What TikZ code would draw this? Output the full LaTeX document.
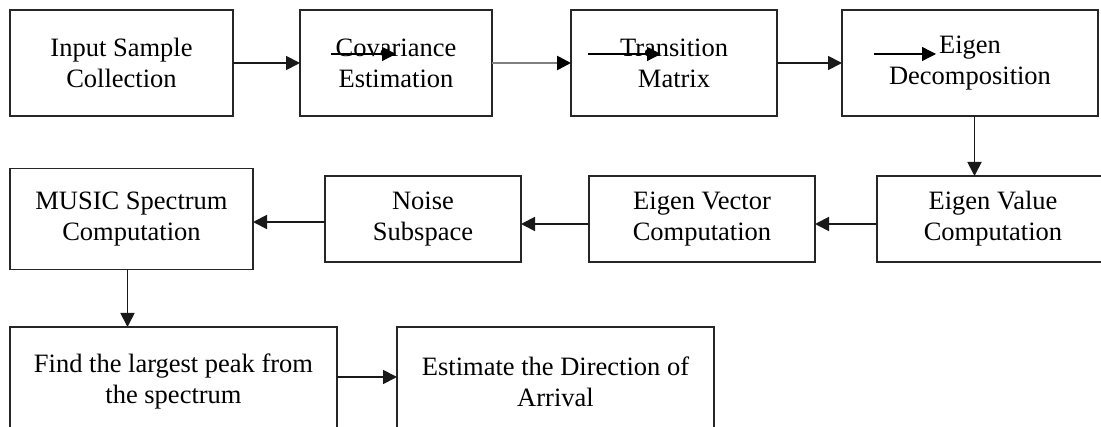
\documentclass[tikz,border=0pt]{standalone}
\usepackage{fontspec}
\setmainfont{Liberation Serif}
\usetikzlibrary{arrows.meta, positioning}

\begin{document}
\begin{tikzpicture}[x=1pt, y=-1pt, >={Triangle[length=14pt, width=14pt]}]
  \tikzstyle{blk}=[rectangle, draw=black!85, line width=1.8pt, align=center,
                   inner sep=0pt, outer sep=0pt, minimum height=106pt,
                   font=\fontsize{26.5}{31}\selectfont]
  \tikzstyle{arr}=[->, line width=1.8pt, color=black!90]
  \tikzstyle{thinarr}=[->, line width=1.3pt]
  \useasboundingbox (0,0) rectangle (1101,427);
  \clip (0,0) rectangle (1101,427);
  % first row
  \node[blk, minimum width=223pt](inp) at (121.5,63){Input Sample\\Collection};
  \node[blk, minimum width=192pt, right=67pt of inp](cov){Covariance\\Estimation};
  \node[blk, minimum width=206pt, right=79pt of cov](trans){Transition\\Matrix};
  \node[blk, minimum width=256pt, right=65pt of trans](decomp){Eigen\\Decomposition};
  % second row, right to left
  \node[blk, minimum width=232pt, minimum height=86pt](evalue) at (993,219){Eigen Value\\Computation};
  \node[blk, minimum width=226pt, minimum height=86pt, left=62pt of evalue](evec){Eigen Vector\\Computation};
  \node[blk, minimum width=196pt, minimum height=86pt, left=68pt of evec](noise){Noise\\Subspace};
  \node[blk, minimum width=243pt, minimum height=101pt, left=72pt of noise](music){MUSIC Spectrum\\Computation};
  % third row
  \node[blk, minimum width=327pt, minimum height=109pt](find) at (173.5,381.5){Find the largest peak from\\the spectrum};
  \node[blk, minimum width=317pt, minimum height=109pt, right=60pt of find](est){Estimate the Direction of\\Arrival};
  % connectors
  \draw[arr](inp)--(cov);
  \draw[arr, draw=gray, line width=2.6pt, -{Triangle[length=14pt, width=14pt, color=black]}](cov)--(trans);
  \draw[arr](trans)--(decomp);
  \draw[arr]([xshift=4.5pt]decomp.south)--([xshift=4.5pt]decomp.south |- evalue.north);
  \draw[arr]([yshift=-5pt]evalue.west)--([yshift=-5pt]evec.east);
  \draw[arr]([yshift=-5pt]evec.west)--([yshift=-5pt]noise.east);
  \draw[arr]([yshift=-3pt]noise.west)--([yshift=-3pt]noise.west -| music.east);
  \draw[arr]([xshift=-4pt]music.south)--([xshift=-4pt]music.south |- find.north);
  \draw[arr]([yshift=4.5pt]find.east)--([yshift=4.5pt]est.west);
  % stray arrows over the text
  \coordinate (c1) at (331,54); \coordinate (c2) at (396,54);
  \coordinate (t1) at (588,54); \coordinate (t2) at (661,54);
  \coordinate (d1) at (874,54); \coordinate (d2) at (936,54);
  \draw[thinarr](c1)--(c2);
  \draw[thinarr](t1)--(t2);
  \draw[thinarr](d1)--(d2);
\end{tikzpicture}
\end{document}
